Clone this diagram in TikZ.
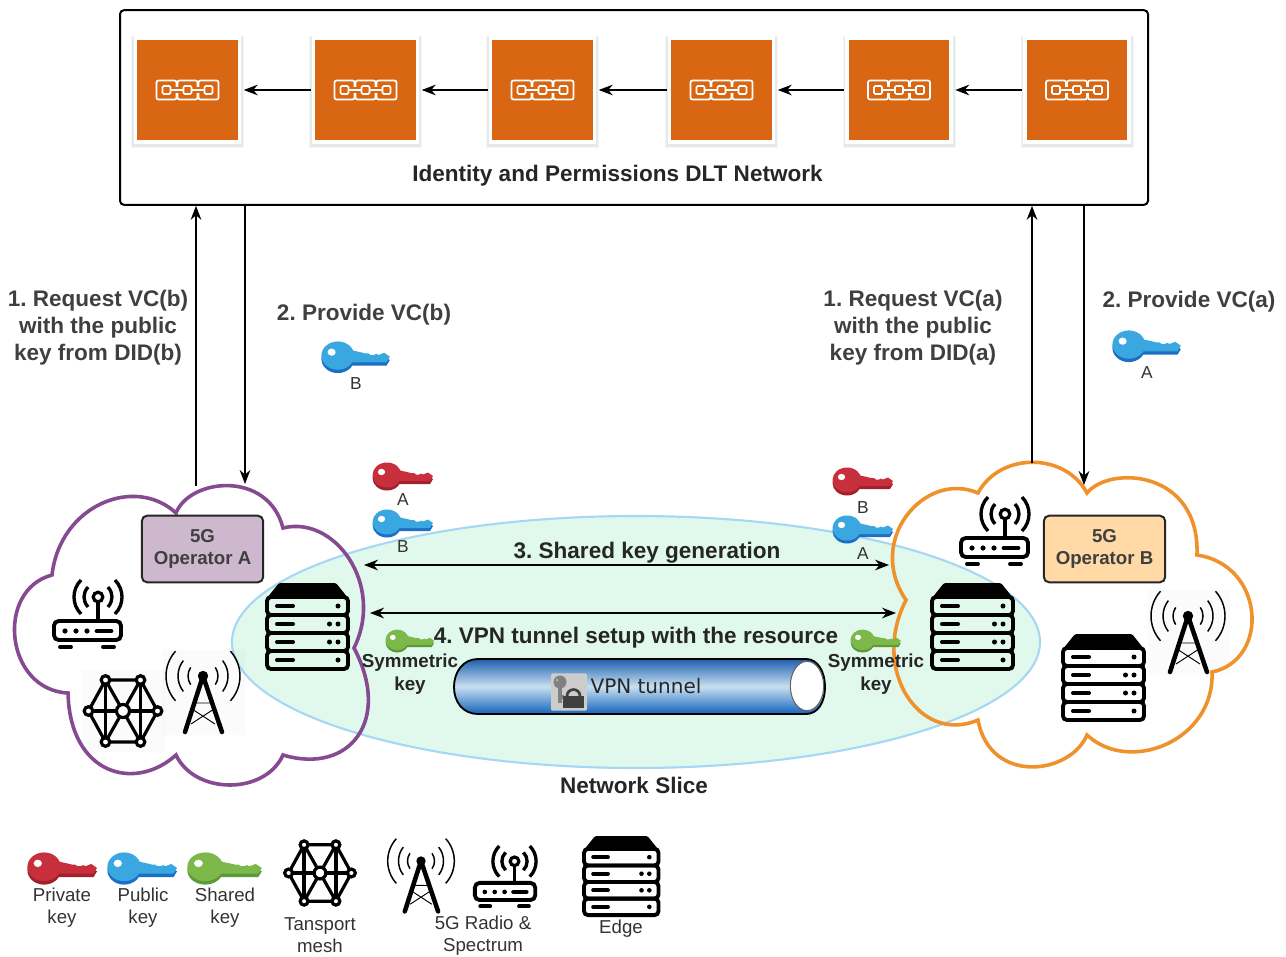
\documentclass[tikz,border=0pt]{standalone}
\usepackage{fontspec}
\setmainfont{Liberation Sans}
\newfontfamily\dejavu{DejaVu Sans}
\frenchspacing
\usetikzlibrary{arrows.meta,shapes.geometric}
\definecolor{blockor}{HTML}{D96613}
\definecolor{lab}{HTML}{3F3F3F}
\definecolor{redA}{HTML}{C82F3C}\definecolor{redB}{HTML}{A0202E}
\definecolor{bluA}{HTML}{3BA7E0}\definecolor{bluB}{HTML}{1C6FC4}
\definecolor{greA}{HTML}{7DB84B}\definecolor{greB}{HTML}{5C9A38}
\definecolor{purpleC}{HTML}{854A8F}
\definecolor{orangeC}{HTML}{F0922B}
\definecolor{sliceF}{HTML}{E1F8EC}
\definecolor{sliceD}{HTML}{A6D8F5}
\definecolor{opAF}{HTML}{CDB8CE}
\definecolor{opBF}{HTML}{FFD9A6}
\definecolor{tunT}{HTML}{1E5FB0}
\definecolor{tunM}{HTML}{C8E0F0}
\definecolor{tunB}{HTML}{1263BC}
\tikzset{
  >={Stealth[length=10.5pt,width=8pt]},
  conn/.style={black,line width=.9pt},
  blocknode/.style={draw=white,line width=2.4pt,fill=blockor,minimum size=78pt,inner sep=0pt},
  bigtxt/.style={font=\fontsize{16.9}{20.25}\selectfont\bfseries,text=lab,align=center,inner sep=0pt},
  hd/.style={font=\fontsize{16.9}{20.25}\selectfont\bfseries,text=black!85,align=center,inner sep=0pt},
  symtxt/.style={font=\fontsize{14.1}{17.2}\selectfont\bfseries,text=black!85,align=center,inner sep=0pt},
  keylab/.style={font=\fontsize{13}{15}\selectfont,text=black!80,inner sep=0pt},
  legtxt/.style={font=\fontsize{14}{16.6}\selectfont,text=black!80,align=center,inner sep=0pt},
  opbox/.style={draw=black!85,line width=1.5pt,rounded corners=4pt,minimum width=91pt,minimum height=50pt,
    font=\fontsize{14}{17}\selectfont\bfseries,text=lab,align=center,inner sep=0pt},
  pics/chainicon/.style={code={
    \foreach \c in {-21,0,21}{
      \draw[white,line width=1.3pt,rounded corners=1.5pt] (\c-10,-9.5) rectangle (\c+10,9.5);
      \draw[white,line width=1.2pt,rounded corners=1pt] (\c-4,-4) rectangle (\c+4,4);
    }
    \foreach \c in {-10.5,10.5}{
      \fill[blockor] (\c-1.8,-3) rectangle (\c+1.8,3);
      \draw[white,line width=1.2pt] (\c-6,0) -- (\c+6,0);
    }
  }},
  pics/keyicon/.style 2 args={code={
    \foreach \o/\col in {3/#2,0/#1}{
      \fill[\col] (14,12+\o) ellipse [x radius=14.5,y radius=12.5];
      \fill[\col] (20,6+\o) -- (34,9+\o) -- (38,10+\o) -- (41,10+\o) -- (43,11.5+\o) -- (46,11.5+\o) -- (48,10.5+\o)
        -- (50,11.5+\o) -- (55,9.5+\o) -- (60,13+\o) -- (57,18+\o) -- (22,18+\o) -- cycle;
    }
    \fill[white] (8.5,9) ellipse [x radius=3.6,y radius=3.2];
  }},
  pics/servericon/.style={code={
    \fill[black,rounded corners=1pt] (0,15) -- (12,0) -- (69,0) -- (81,15) -- cycle;
    \foreach \r in {0,18,36,54}{
      \draw[black,line width=2.9pt,rounded corners=3pt] (0,14+\r) rectangle (81,32+\r);
      \draw[black,line width=3pt,line cap=round] (10,23+\r) -- (26,23+\r);
    }
    \foreach \p/\q in {71/23,62.5/41,71/41,62.5/59,71/59,71/77}{\fill[black] (\p,\q) circle[radius=2.5];}
  }},
  pics/routericon/.style={code={
    \draw[black,line width=2.9pt,rounded corners=3.5pt] (1,41) rectangle (68,60);
    \draw[black,line width=2.9pt,line cap=round] (7,67) -- (18,67) (50,67) -- (61,67);
    \foreach \p in {12,23,34}{\fill[black] (\p,51) circle[radius=2.6];}
    \draw[black,line width=3.6pt,line cap=round] (44,51) -- (58,51);
    \draw[black,line width=2.4pt] (45,23) -- (45,41);
    \draw[black,line width=2.4pt,fill=white] (45,17) circle[radius=4.8];
    \foreach \r in {14,24}{
      \draw[black,line width=2.5pt] ([shift=(-45:\r)]45,17) arc[start angle=-45,end angle=45,radius=\r];
      \draw[black,line width=2.5pt] ([shift=(135:\r)]45,17) arc[start angle=135,end angle=225,radius=\r];
    }
  }},
  pics/towerback/.style={code={\fill[black,opacity=.015] (-40,-26) rectangle (42,59);}},
  pics/towericon/.style={code={
    \draw[black,line width=3.4pt,line join=round,line cap=round] (-18,56) -- (0,0) -- (19,56);
    \draw[black,line width=.7pt] (-11,33) -- (12,48) (11,33) -- (-12,48) (-8,27) -- (8,27);
    \fill[black] (0,0) circle[radius=5.2];
    \foreach \r/\a in {15/35,25/38,37/42}{
      \draw[black,line width=1.1pt] ([shift=(-\a:\r)]0,0) arc[start angle=-\a,end angle=\a,radius=\r];
      \draw[black,line width=1.1pt] ([shift=(180-\a:\r)]0,0) arc[start angle=180-\a,end angle=180+\a,radius=\r];
    }
  }},
  pics/meshicon/.style={code={
    \begin{scope}[black,line width=2.4pt]
      \draw (-17.5,-31) -- (17.5,-31) -- (34.5,0) -- (17.5,31) -- (-17.5,31) -- (-34.5,0) -- cycle;
      \draw (-17.5,-31) -- (-17.5,31) (17.5,-31) -- (17.5,31) (-34.5,0) -- (34.5,0);
      \draw (-17.5,-31) -- (17.5,31) (17.5,-31) -- (-17.5,31);
      \foreach \p/\q in {-17.5/-31,17.5/-31,34.5/0,17.5/31,-17.5/31,-34.5/0}{
        \draw[fill=white] (\p,\q) circle[radius=4.3];}
      \draw[fill=white] (0,0) circle[radius=6.5];
    \end{scope}
  }},
}
\begin{document}
\begin{tikzpicture}[x=.75pt,y=-.75pt]
\useasboundingbox (0,0) rectangle (1286,957);

% ledger
\node[draw=black,line width=1.5pt,rounded corners=3pt,fill=white,minimum width=771pt,minimum height=146pt,inner sep=0pt] (ledger) at (634,107.5) {};
\foreach \n/\x in {b1/187.5,b2/365.5,b3/542.5,b4/721.5,b5/899,b6/1077}{
  \fill[black!4] (\x-56.5,36) rectangle (\x+56.5,148);
  \fill[black!9] (\x-55.5,37) rectangle (\x+55.5,146.5);
  \node[blocknode] (\n) at (\x,90) {};
  \pic (ic\n) at (\x,90) {chainicon};
}
\foreach \a/\b in {b2/b1,b3/b2,b4/b3,b5/b4,b6/b5}{
  \draw[conn,->,shorten >=2pt,shorten <=1pt] (\a) -- (\b);
}
\node[hd] (ledgertitle) at (617.5,176) {Identity and Permissions DLT Network};

% slice ellipse
\node[ellipse,draw=sliceD,line width=1.6pt,fill=sliceF,minimum width=606pt,minimum height=189pt,inner sep=0pt] (slice) at (636,642) {};

% faint squares behind the icons
\pic at (203,676) {towerback};
\pic at (1188,616) {towerback};
\fill[black,opacity=.015] (82,670) rectangle (165,752);

% clouds
\draw[purpleC,line width=2.7pt,line join=miter]
  (52,575) .. controls (60,505) and (135,475) .. (176,513)
  .. controls (190,478) and (268,470) .. (283,528)
  .. controls (335,515) and (385,585) .. (354,648)
  .. controls (392,720) and (350,775) .. (283,755)
  .. controls (265,795) and (195,795) .. (176,755)
  .. controls (135,792) and (70,775) .. (68,693)
  .. controls (5,690) and (-5,590) .. (52,575) -- cycle;
\draw[orangeC,line width=2.7pt,line join=miter]
  (906,600) .. controls (865,540) and (925,470) .. (978,493)
  .. controls (1000,452) and (1065,452) .. (1087,493)
  .. controls (1110,465) and (1200,470) .. (1197,555)
  .. controls (1265,565) and (1270,660) .. (1212,672)
  .. controls (1215,740) and (1130,775) .. (1087,735)
  .. controls (1070,775) and (990,785) .. (978,720)
  .. controls (920,745) and (870,670) .. (906,600) -- cycle;

% anchors on the clouds
\coordinate (cloudAup) at (196,486);
\coordinate (cloudAdown) at (245,484);
\coordinate (cloudBup) at (1032,463);
\coordinate (cloudBdown) at (1084,485);
\coordinate (sl1) at (364,565); \coordinate (sr1) at (889,565);
\coordinate (sl2) at (370,613); \coordinate (sr2) at (896,613);

\draw[conn,->] (cloudAup) -- (cloudAup |- ledger.south);
\draw[conn,->] (cloudAdown |- ledger.south) -- (cloudAdown);
\draw[conn,->] (cloudBup) -- (cloudBup |- ledger.south);
\draw[conn,->] (cloudBdown |- ledger.south) -- (cloudBdown);
\draw[conn,<->] (sl1) -- (sr1);
\draw[conn,<->] (sl2) -- (sr2);

% operators
\node[opbox,fill=opAF] (opA) at (202.5,549) {5G\\Operator A};
\node[opbox,fill=opBF] (opB) at (1104.5,549) {5G\\Operator B};

% icons in clouds
\pic (srvA) at (267,583) {servericon};
\pic (srvB) at (932,583) {servericon};
\pic (srvC) at (1063,634) {servericon};
\pic (rtA) at (53,580) {routericon};
\pic (rtB) at (960,497) {routericon};
\pic (twA) at (203,676) {towericon};
\pic (twB) at (1188,616) {towericon};
\pic (mshA) at (123,711) {meshicon};

% tunnel
\fill[top color=tunT,bottom color=tunB,middle color=tunM]
  (478,659) -- (806,659) .. controls (818,659) and (825,672) .. (825,687) .. controls (825,702) and (818,714) .. (806,714)
  -- (478,714) .. controls (463,714) and (454,702) .. (454,687) .. controls (454,672) and (463,659) .. (478,659) -- cycle;
\draw[black,line width=1.4pt]
  (478,659) -- (806,659) .. controls (818,659) and (825,672) .. (825,687) .. controls (825,702) and (818,714) .. (806,714)
  -- (478,714) .. controls (463,714) and (454,702) .. (454,687) .. controls (454,672) and (463,659) .. (478,659) -- cycle;
\node[ellipse,draw=black!60,line width=.8pt,fill=white,minimum width=25pt,minimum height=37pt,inner sep=0pt] (tunnelcap) at (807,686) {};
\node[fill=black!20,rounded corners=1pt,minimum width=27pt,minimum height=28pt,inner sep=0pt] (lockbg) at (569,692) {};
\fill[black!50] (560,682) circle[radius=6.5];
\fill[white!70!black] (557,680) circle[radius=1.5];
\draw[black!50,line width=2.3pt] (560,686) -- (560,703) (560,697) -- (564,697);
\fill[black!75] (563,696) rectangle (584,708);
\draw[black!75,line width=2pt] (567,696) arc[start angle=180,end angle=360,radius=6.5];
\node[inner sep=0pt,font=\dejavu\fontsize{15}{18}\selectfont,text=black!85] (vpnlabel) at (646,686) {VPN tunnel};

% keys
\pic[scale=1.13] (kB) at (322,342) {keyicon={bluA}{bluB}};
\pic[scale=1.13] (kA) at (1113,331) {keyicon={bluA}{bluB}};
\pic (k1) at (373,463) {keyicon={redA}{redB}};
\pic (k2) at (373,510) {keyicon={bluA}{bluB}};
\pic (k3) at (833,468) {keyicon={redA}{redB}};
\pic (k4) at (833,516) {keyicon={bluA}{bluB}};
\pic[xscale=.8,yscale=.82] (k5) at (386,630) {keyicon={greA}{greB}};
\pic[xscale=.83,yscale=.82] (k6) at (851,630) {keyicon={greA}{greB}};

% texts
\node[bigtxt] (t1) at (98,328) {1. Request VC(b)\\with the public\\key from DID(b)};
\node[bigtxt] (t2) at (364,315) {2. Provide VC(b)};
\node[bigtxt] (t3) at (913,328) {1. Request VC(a)\\with the public\\key from DID(a)};
\node[bigtxt] (t4) at (1189,302) {2. Provide VC(a)};
\node[keylab] (l1) at (356,384) {B};
\node[keylab] (l2) at (1147,373) {A};
\node[keylab] (l3) at (403,500) {A};
\node[keylab] (l4) at (403,547) {B};
\node[keylab] (l5) at (863,508) {B};
\node[keylab] (l6) at (863,554) {A};
\node[hd] (t5) at (647,553) {3. Shared key generation};
\node[hd] (t6) at (636,638) {4. VPN tunnel setup with the resource};
\node[symtxt] (s1) at (410,674) {Symmetric\\key};
\node[symtxt] (s2) at (876,674) {Symmetric\\key};
\node[hd] (t7) at (634,785) {Network Slice};

% legend
\pic[scale=1.15] (lk1) at (28,853) {keyicon={redA}{redB}};
\pic[scale=1.15] (lk2) at (108,853) {keyicon={bluA}{bluB}};
\pic[xscale=1.23,yscale=1.15] (lk3) at (188,853) {keyicon={greA}{greB}};
\node[legtxt] (g1) at (62,908) {Private\\key};
\node[legtxt] (g2) at (143,908) {Public\\key};
\node[legtxt] (g3) at (225,908) {Shared\\key};
\pic[scale=.91] (lm) at (320,873) {meshicon};
\node[legtxt] (g4) at (320,935) {Tansport\\mesh};
\pic[scale=.9] (lt) at (421,861) {towericon};
\pic[scale=.9] (lr) at (474,846) {routericon};
\node[legtxt] (g5) at (483,936) {5G Radio \&\\Spectrum};
\pic[scale=.92] (ls) at (584,836) {servericon};
\node[legtxt] (g6) at (621,929) {Edge};
\end{tikzpicture}
\end{document}
